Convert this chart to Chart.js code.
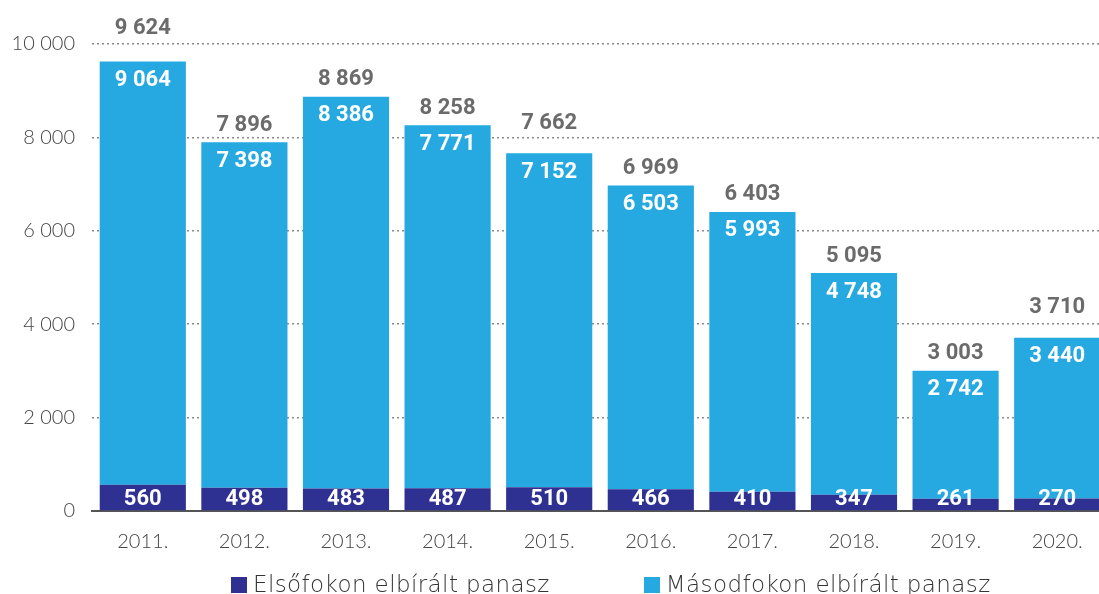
<!DOCTYPE html>
<html>
<head>
<meta charset="utf-8">
<script src="https://cdn.jsdelivr.net/npm/chart.js@4.4.1/dist/chart.umd.min.js"></script>
<style>
    html, body { margin: 0; padding: 0; background: #fff; overflow: hidden; }
    #wrap { position: relative; width: 1108px; height: 594px; }
    #legend { position: absolute; left: 231px; top: 571px; font-family: "DejaVu Sans", sans-serif; font-weight: 200;
        font-size: 23px; letter-spacing: 0.4px; line-height: 26px; color: #333; white-space: nowrap; }
    #legend span.item { display: inline-block; }
    #legend span.box { display: inline-block; width: 16px; height: 16px; margin-right: 6px; vertical-align: -1px; }
</style>
</head>
<body>
<div id="wrap">
    <canvas id="chart" width="1108" height="594"></canvas>
    <div id="legend"></div>
</div>
<script>
let years = ["2011.", "2012.", "2013.", "2014.", "2015.", "2016.", "2017.", "2018.", "2019.", "2020."];
let elsofok = [560, 498, 483, 487, 510, 466, 410, 347, 261, 270];
let masodfok = [9064, 7398, 8386, 7771, 7152, 6503, 5993, 4748, 2742, 3440];
let totals = [9624, 7896, 8869, 8258, 7662, 6969, 6403, 5095, 3003, 3710];
let seriesNames = ["Elsőfokon elbírált panasz", "Másodfokon elbírált panasz"];

// a few total labels sit higher than the others in the original
let totalLift = [16, 0, 0, 0, 13, 0, 0, 0, 0, 13];

const DARK = "#2e3192";
const LIGHT = "#25a9e0";

function fmt(v) {
    return String(v).replace(/\B(?=(\d{3})+(?!\d))/g, " ");
}

const barLabels = {
    id: "barLabels",
    afterDatasetsDraw(chart) {
        let ctx = chart.ctx;
        ctx.save();
        ctx.textAlign = "center";
        ctx.textBaseline = "middle";
        ctx.font = "bold 22px Roboto, sans-serif";
        let bottomMeta = chart.getDatasetMeta(0);
        let topMeta = chart.getDatasetMeta(1);
        bottomMeta.data.forEach((bar, i) => {
            ctx.fillStyle = "#ffffff";
            ctx.fillText(fmt(elsofok[i]), bar.x, bar.base - 11);
        });
        topMeta.data.forEach((bar, i) => {
            ctx.fillStyle = "#ffffff";
            ctx.fillText(fmt(masodfok[i]), bar.x, bar.y + 19);
            ctx.fillStyle = "#6b6b6b";
            ctx.fillText(fmt(totals[i]), bar.x, bar.y - 17 - totalLift[i]);
        });
        ctx.restore();
    }
};

let chart = new Chart(document.getElementById("chart"), {
    type: "bar",
    data: {
        labels: years,
        datasets: [
            { label: seriesNames[0], data: elsofok, backgroundColor: DARK, borderWidth: 0 },
            { label: seriesNames[1], data: masodfok, backgroundColor: LIGHT, borderWidth: 0 }
        ]
    },
    options: {
        responsive: false,
        animation: false,
        layout: { padding: { top: 44, right: 0, left: 0, bottom: 0 } },
        plugins: { legend: { display: false }, tooltip: { enabled: false } },
        datasets: { bar: { categoryPercentage: 1, barPercentage: 0.848 } },
        scales: {
            x: {
                stacked: true,
                grid: { display: false },
                border: { display: true, color: "#555", width: 2 },
                ticks: { color: "#444", padding: 11, font: { family: "Lato", weight: 300, size: 20 } },
                afterFit: (scale) => { scale.height = 83; }
            },
            y: {
                stacked: true,
                min: 0,
                max: 10000,
                grid: {
                    drawTicks: false,
                    color: (c) => c.tick && c.tick.value === 0 ? "rgba(0,0,0,0)" : "#8a8a8a",
                    lineWidth: 1.5
                },
                border: { display: false, dash: [2, 3] },
                ticks: {
                    stepSize: 2000,
                    padding: 17,
                    color: "#444",
                    font: { family: "Lato", weight: 300, size: 20 },
                    callback: (v) => fmt(v)
                },
                afterFit: (scale) => { scale.width = 92; }
            }
        }
    },
    plugins: [barLabels]
});

let legendEl = document.getElementById("legend");
legendEl.innerHTML = seriesNames.map((name, i) =>
    `<span class="item" style="margin-right:${i === 0 ? 94 : 0}px"><span class="box" style="background:${chart.data.datasets[i].backgroundColor}"></span>${name}</span>`
).join("");
</script>
</body>
</html>
